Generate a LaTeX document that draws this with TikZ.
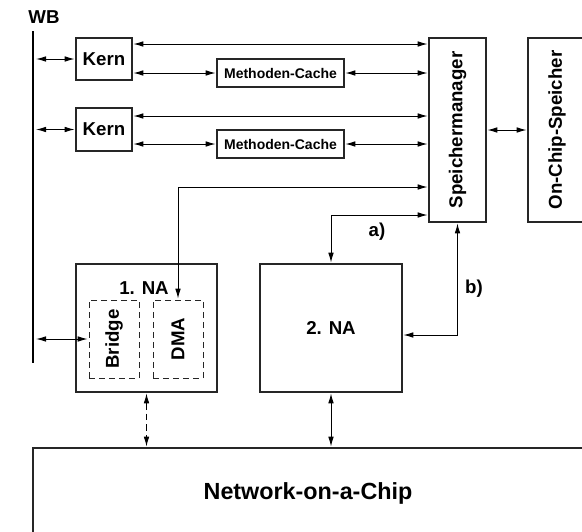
\documentclass[tikz,border=0pt]{standalone}
\usepackage{fontspec}
\setmainfont{Liberation Sans}
\usetikzlibrary{arrows.meta,calc}
\begin{document}
\begin{tikzpicture}[x=0.75pt,y=-0.75pt,
  box/.style={draw=black!85, line width=0.8pt, inner sep=0pt, outer sep=1pt, font=\bfseries\fontsize{14}{16}\selectfont},
  dbox/.style={box, dash pattern=on 4.5pt off 3pt, line width=0.7pt},
  conn/.style={line width=0.75pt, {Latex[length=7.5pt,width=4.2pt]}-{Latex[length=7.5pt,width=4.2pt]}},
  dconn/.style={conn, dash pattern=on 5pt off 3pt},
  lab/.style={font=\bfseries\fontsize{14}{16}\selectfont},
  small/.style={font=\bfseries\fontsize{10.5}{12}\selectfont}]
\clip (0,0) rectangle (582,532);
\useasboundingbox (0,0) rectangle (582,532);
% WB bus
\node[lab] (wb) at (44,17) {WB};
\coordinate (wbtop) at (33,31);
\coordinate (wbbot) at (33,363);
\draw[line width=0.8pt] (wbtop) -- (wbbot);
% Kerne
\node[box, minimum width=42pt, minimum height=31.5pt] (k1) at (104,59) {Kern};
\node[box, minimum width=42pt, minimum height=32.25pt] (k2) at (104,129.5) {Kern};
\node[box, small, minimum width=95.25pt, minimum height=21pt] (mc1) at (280.5,73) {Methoden-Cache};
\node[box, small, minimum width=95.25pt, minimum height=21pt] (mc2) at (280.5,144) {Methoden-Cache};
\node[box, minimum width=42.75pt, minimum height=138pt] (sm) at (457.5,130) {\rotatebox{90}{Speichermanager}};
\node[box, minimum width=43.5pt, minimum height=138pt] (ocs) at (557,130) {\rotatebox{90}{On-Chip-Speicher}};
% NAs
\node[box, minimum width=105.75pt, minimum height=96pt] (na1) at (146.5,328) {};
\node[lab] (na1lab) at (144,288) {1. NA};
\node[dbox, minimum width=37.5pt, minimum height=58.5pt] (br) at (114,339) {\rotatebox{90}{Bridge}};
\node[dbox, minimum width=37.5pt, minimum height=58.5pt] (dma) at (178,339) {\rotatebox{90}{DMA}};
\node[box, minimum width=106.5pt, minimum height=96pt] (na2) at (331,328) {2. NA};
% NoC
\node[box, minimum width=440.25pt, minimum height=84pt] (noc) at (326.5,504) {};
\node[lab, font=\bfseries\fontsize{17.5}{20}\selectfont] (noclab) at (308,493) {Network-on-a-Chip};
% connectors
\draw[conn] ($(wbtop |- k1.west)+(3,0)$) -- (k1.west);
\draw[conn] ($(wbtop |- k2.west)+(3,0)$) -- (k2.west);
\draw[conn] ($(wbtop |- br.west)+(3,0)$) -- (br.west);
\draw[conn] (k1.east |- 0,44) -- (sm.west |- 0,44);
\draw[conn] (k1.east |- mc1.west) -- (mc1.west);
\draw[conn] (mc1.east) -- (sm.west |- mc1.east);
\draw[conn] (k2.east |- 0,116) -- (sm.west |- 0,116);
\draw[conn] (k2.east |- mc2.west) -- (mc2.west);
\draw[conn] (mc2.east) -- (sm.west |- mc2.east);
\draw[conn] (sm.east) -- (ocs.west);
\draw[conn] (dma.north) -- (dma.north |- 0,187) -- (sm.west |- 0,187);
\draw[conn] (na2.north) -- (na2.north |- 0,215) -- (sm.west |- 0,215);
\node[lab] (alab) at (377,232) {a)};
\draw[conn] (sm.south) -- (sm.south |- 0,335) -- (na2.east |- 0,335);
\node[lab] (blab) at (474,289) {b)};
\draw[dconn] (na1.south) -- (na1.south |- noc.north);
\draw[conn] (na2.south) -- (na2.south |- noc.north);
\end{tikzpicture}
\end{document}
